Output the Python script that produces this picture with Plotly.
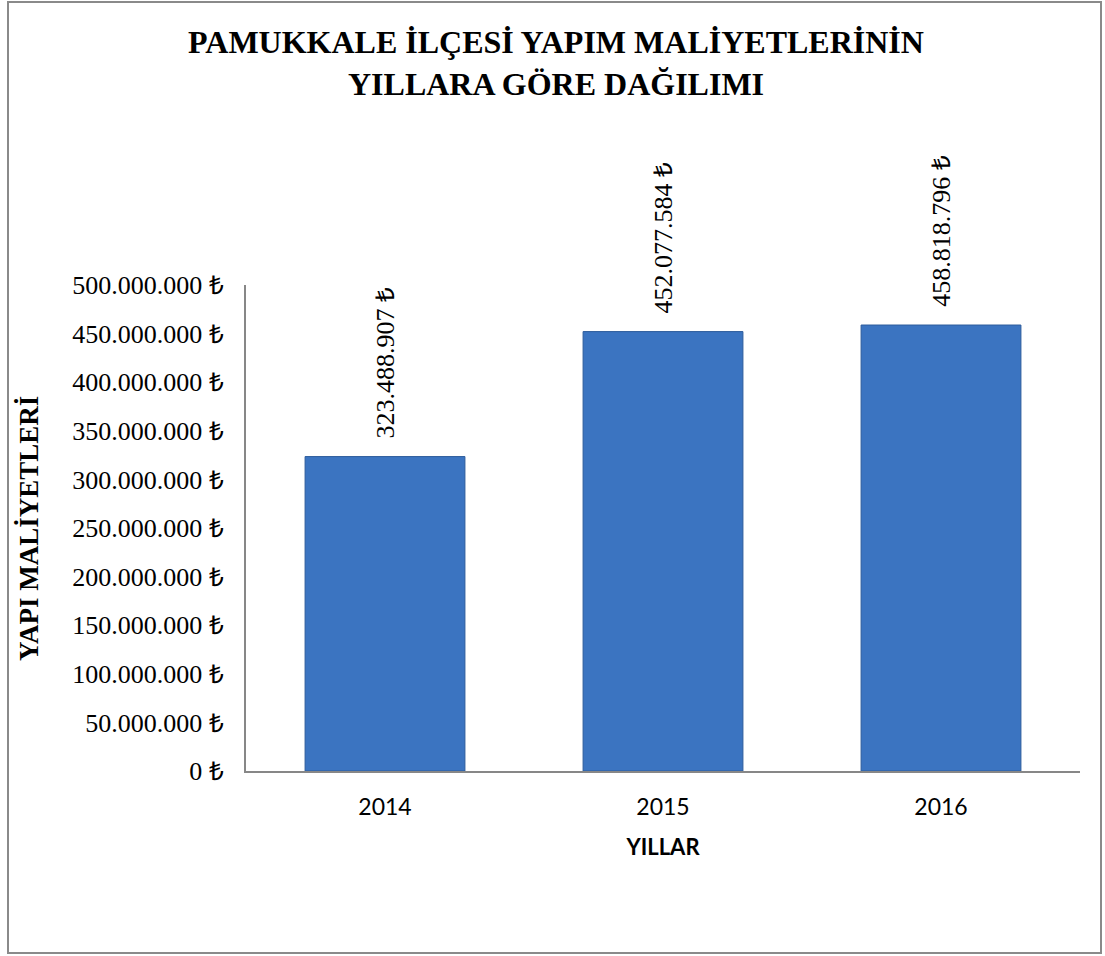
import plotly.graph_objects as go

years = ["2014", "2015", "2016"]
costs = [323488907, 452077584, 458818796]
y_ticks = [0, 50e6, 100e6, 150e6, 200e6, 250e6, 300e6, 350e6, 400e6, 450e6, 500e6]

title_text = "PAMUKKALE İLÇESİ YAPIM MALİYETLERİNİN<br>YILLARA GÖRE DAĞILIMI"
y_title = "YAPI MALİYETLERİ"
x_title = "YILLAR"


def tl(v):
    return f"{int(v):,}".replace(",", ".") + " ₺"


y_tick_text = [tl(v) for v in y_ticks]

W, H = 1105, 956
L, R, T, B = 246, 25, 285, 185
pw, ph = W - L - R, H - T - B

SERIF = "Liberation Serif, serif"
SANS = "Lato, Open Sans, sans-serif"

fig = go.Figure()
fig.add_trace(go.Bar(
    x=years, y=costs,
    marker=dict(color="#3b74c1", line=dict(color="#2d5c9c", width=1)),
    texttemplate="\u00a0\u00a0\u200a%{y:,.0f} ₺",
    textposition="outside",
    textangle=-90,
    constraintext="none",
    cliponaxis=False,
    textfont=dict(family=SERIF, size=26, color="#000000"),
))

fig.update_layout(
    width=W, height=H,
    margin=dict(l=L, r=R, t=T, b=B),
    paper_bgcolor="white", plot_bgcolor="white",
    separators=",.",
    bargap=0.425,
    showlegend=False,
    title=dict(
        text=title_text,
        x=556 / W, xanchor="center",
        y=1 - 53 / H, yanchor="middle",
        font=dict(family=SERIF, size=32, color="#000000", weight="bold"),
    ),
    xaxis=dict(
        showline=True, linecolor="#878787", linewidth=2,
        ticks="", showgrid=False,
        tickfont=dict(family=SANS, size=23, color="#000000"),
        ticklabelstandoff=14,
        title=dict(text=x_title, standoff=21,
                   font=dict(family=SANS, size=22, color="#000000", weight="bold")),
    ),
    yaxis=dict(
        range=[0, 500e6],
        tickmode="array", tickvals=y_ticks, ticktext=y_tick_text,
        showline=True, linecolor="#878787", linewidth=2,
        ticks="", showgrid=False, zeroline=False,
        tickfont=dict(family=SERIF, size=26, color="#000000"),
        ticklabelstandoff=15,
    ),
    annotations=[dict(
        text=y_title, textangle=-90,
        xref="paper", yref="paper",
        x=(29 - L) / pw, y=(H - B - 529) / ph,
        xanchor="center", yanchor="middle", showarrow=False,
        font=dict(family=SERIF, size=27, color="#000000", weight="bold"),
    )],
    shapes=[dict(
        type="rect", xref="paper", yref="paper",
        x0=(8 - L) / pw, x1=(1101 - L) / pw,
        y0=(H - B - 953) / ph, y1=(H - B - 2) / ph,
        line=dict(color="#8a8a8a", width=2), fillcolor="rgba(0,0,0,0)", layer="below",
    )],
)

fig.write_html("out.html")
